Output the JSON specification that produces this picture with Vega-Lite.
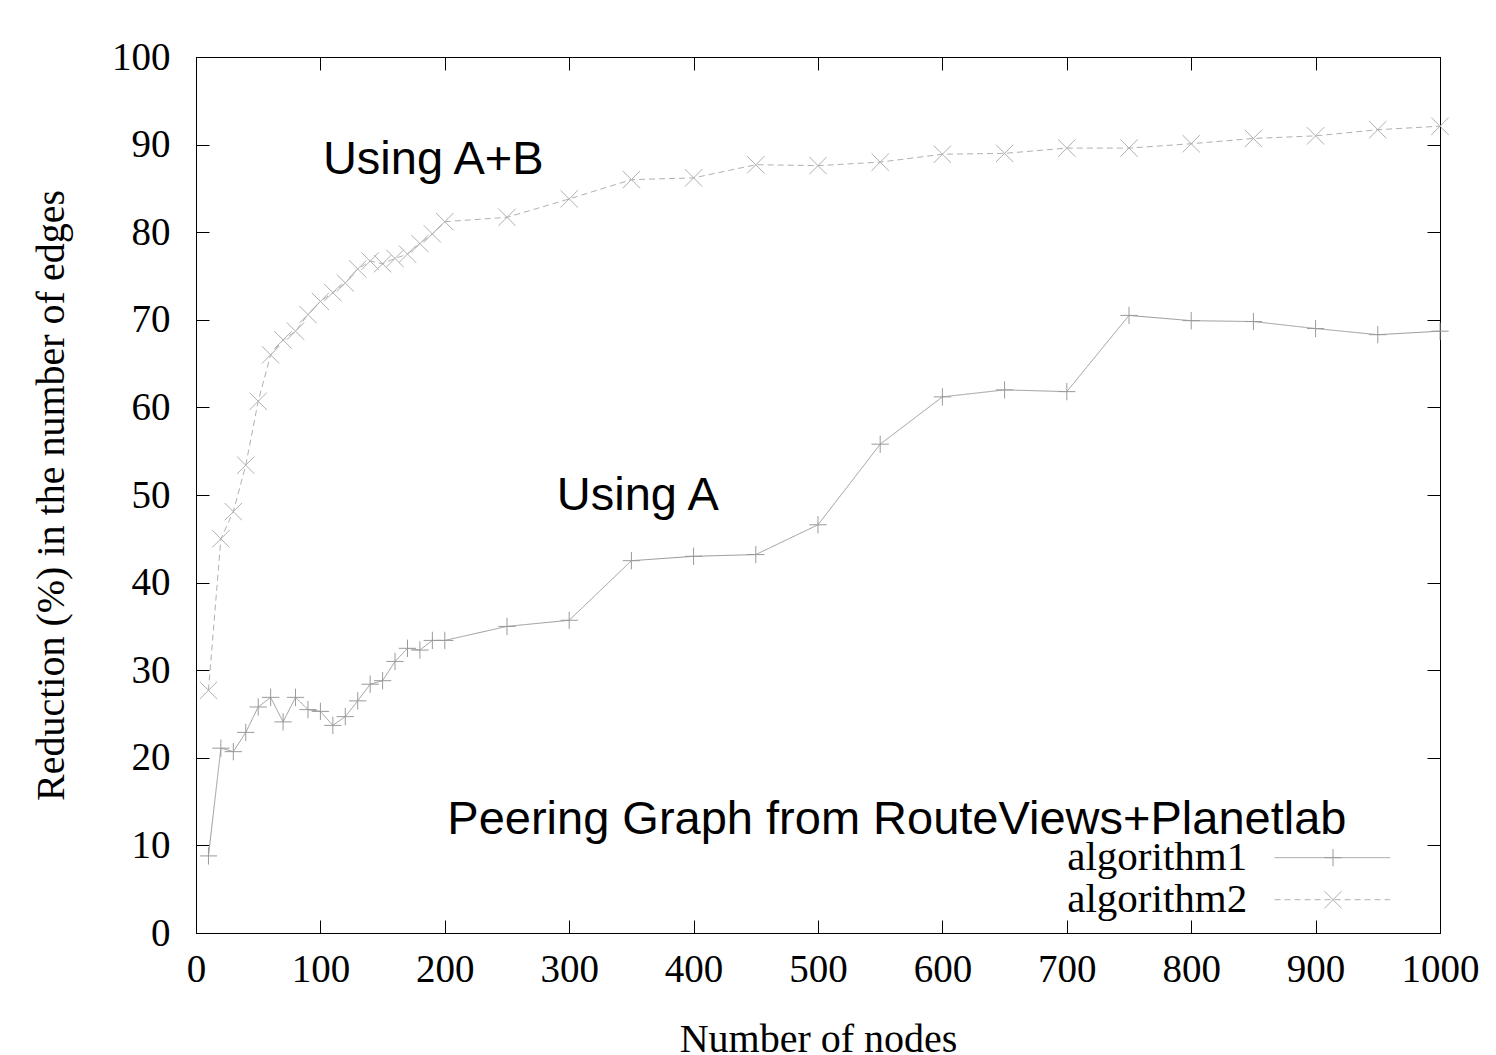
{
  "$schema": "https://vega.github.io/schema/vega-lite/v6.json",
  "width": 1244,
  "height": 876,
  "autosize": {"type": "none"},
  "padding": {"left": 196, "top": 57, "right": 56, "bottom": 122},
  "background": "white",
  "config": {
    "view": {"stroke": "black", "strokeWidth": 1},
    "axis": {
      "grid": false,
      "domainColor": "black",
      "tickColor": "black",
      "tickSize": -13,
      "labelFlush": false,
      "labelOverlap": false,
      "format": "d",
      "labelFont": "Liberation Serif",
      "labelFontSize": 39,
      "labelColor": "black",
      "titleFont": "Liberation Serif",
      "titleFontSize": 40,
      "titleFontWeight": "normal",
      "titleColor": "black"
    }
  },
  "datasets": {
    "series": [
      {"nodes": 10, "reduction": 8.8, "series": "algorithm1"},
      {"nodes": 20, "reduction": 21.1, "series": "algorithm1"},
      {"nodes": 30, "reduction": 20.7, "series": "algorithm1"},
      {"nodes": 40, "reduction": 22.9, "series": "algorithm1"},
      {"nodes": 50, "reduction": 25.8, "series": "algorithm1"},
      {"nodes": 60, "reduction": 26.9, "series": "algorithm1"},
      {"nodes": 70, "reduction": 24.1, "series": "algorithm1"},
      {"nodes": 80, "reduction": 26.9, "series": "algorithm1"},
      {"nodes": 90, "reduction": 25.5, "series": "algorithm1"},
      {"nodes": 100, "reduction": 25.3, "series": "algorithm1"},
      {"nodes": 110, "reduction": 23.7, "series": "algorithm1"},
      {"nodes": 120, "reduction": 24.7, "series": "algorithm1"},
      {"nodes": 130, "reduction": 26.5, "series": "algorithm1"},
      {"nodes": 140, "reduction": 28.4, "series": "algorithm1"},
      {"nodes": 150, "reduction": 28.8, "series": "algorithm1"},
      {"nodes": 160, "reduction": 31.0, "series": "algorithm1"},
      {"nodes": 170, "reduction": 32.5, "series": "algorithm1"},
      {"nodes": 180, "reduction": 32.3, "series": "algorithm1"},
      {"nodes": 190, "reduction": 33.4, "series": "algorithm1"},
      {"nodes": 200, "reduction": 33.4, "series": "algorithm1"},
      {"nodes": 250, "reduction": 35.0, "series": "algorithm1"},
      {"nodes": 300, "reduction": 35.7, "series": "algorithm1"},
      {"nodes": 350, "reduction": 42.5, "series": "algorithm1"},
      {"nodes": 400, "reduction": 43.0, "series": "algorithm1"},
      {"nodes": 450, "reduction": 43.2, "series": "algorithm1"},
      {"nodes": 500, "reduction": 46.6, "series": "algorithm1"},
      {"nodes": 550, "reduction": 55.8, "series": "algorithm1"},
      {"nodes": 600, "reduction": 61.2, "series": "algorithm1"},
      {"nodes": 650, "reduction": 62.0, "series": "algorithm1"},
      {"nodes": 700, "reduction": 61.8, "series": "algorithm1"},
      {"nodes": 750, "reduction": 70.5, "series": "algorithm1"},
      {"nodes": 800, "reduction": 69.9, "series": "algorithm1"},
      {"nodes": 850, "reduction": 69.8, "series": "algorithm1"},
      {"nodes": 900, "reduction": 69.0, "series": "algorithm1"},
      {"nodes": 950, "reduction": 68.3, "series": "algorithm1"},
      {"nodes": 1000, "reduction": 68.7, "series": "algorithm1"},
      {"nodes": 10, "reduction": 27.7, "series": "algorithm2"},
      {"nodes": 20, "reduction": 45.0, "series": "algorithm2"},
      {"nodes": 30, "reduction": 48.1, "series": "algorithm2"},
      {"nodes": 40, "reduction": 53.4, "series": "algorithm2"},
      {"nodes": 50, "reduction": 60.7, "series": "algorithm2"},
      {"nodes": 60, "reduction": 66.0, "series": "algorithm2"},
      {"nodes": 70, "reduction": 67.7, "series": "algorithm2"},
      {"nodes": 80, "reduction": 68.7, "series": "algorithm2"},
      {"nodes": 90, "reduction": 70.6, "series": "algorithm2"},
      {"nodes": 100, "reduction": 72.1, "series": "algorithm2"},
      {"nodes": 110, "reduction": 73.1, "series": "algorithm2"},
      {"nodes": 120, "reduction": 74.2, "series": "algorithm2"},
      {"nodes": 130, "reduction": 75.8, "series": "algorithm2"},
      {"nodes": 140, "reduction": 76.7, "series": "algorithm2"},
      {"nodes": 150, "reduction": 76.4, "series": "algorithm2"},
      {"nodes": 160, "reduction": 77.0, "series": "algorithm2"},
      {"nodes": 170, "reduction": 77.5, "series": "algorithm2"},
      {"nodes": 180, "reduction": 78.7, "series": "algorithm2"},
      {"nodes": 190, "reduction": 79.8, "series": "algorithm2"},
      {"nodes": 200, "reduction": 81.2, "series": "algorithm2"},
      {"nodes": 250, "reduction": 81.7, "series": "algorithm2"},
      {"nodes": 300, "reduction": 83.8, "series": "algorithm2"},
      {"nodes": 350, "reduction": 86.0, "series": "algorithm2"},
      {"nodes": 400, "reduction": 86.2, "series": "algorithm2"},
      {"nodes": 450, "reduction": 87.7, "series": "algorithm2"},
      {"nodes": 500, "reduction": 87.6, "series": "algorithm2"},
      {"nodes": 550, "reduction": 88.0, "series": "algorithm2"},
      {"nodes": 600, "reduction": 88.9, "series": "algorithm2"},
      {"nodes": 650, "reduction": 89.0, "series": "algorithm2"},
      {"nodes": 700, "reduction": 89.6, "series": "algorithm2"},
      {"nodes": 750, "reduction": 89.6, "series": "algorithm2"},
      {"nodes": 800, "reduction": 90.1, "series": "algorithm2"},
      {"nodes": 850, "reduction": 90.7, "series": "algorithm2"},
      {"nodes": 900, "reduction": 91.0, "series": "algorithm2"},
      {"nodes": 950, "reduction": 91.7, "series": "algorithm2"},
      {"nodes": 1000, "reduction": 92.1, "series": "algorithm2"}
    ],
    "legendRows": [
      {"series": "algorithm1", "labelX": 845, "lineStart": 867, "lineEnd": 960, "markX": 914, "level": 8.6},
      {"series": "algorithm2", "labelX": 845, "lineStart": 867, "lineEnd": 960, "markX": 914, "level": 3.8}
    ],
    "notes": [
      {"label": "Using A+B", "nodes": 102, "reduction": 88.2},
      {"label": "Using A", "nodes": 290, "reduction": 49.9},
      {"label": "Peering Graph from RouteViews+Planetlab", "nodes": 202, "reduction": 12.9}
    ]
  },
  "layer": [
    {
      "data": {"name": "series"},
      "mark": {"type": "line", "strokeWidth": 1},
      "encoding": {
        "x": {
          "field": "nodes", "type": "quantitative",
          "scale": {"domain": [0, 1000], "nice": false, "zero": false},
          "axis": {"orient": "bottom", "values": [0,100,200,300,400,500,600,700,800,900,1000], "title": "Number of nodes", "labelPadding": 30, "titlePadding": 30}
        },
        "y": {
          "field": "reduction", "type": "quantitative",
          "scale": {"domain": [0, 100], "nice": false},
          "axis": {"orient": "left", "values": [0,10,20,30,40,50,60,70,80,90,100], "title": "Reduction (%) in the number of edges", "labelPadding": 39, "titlePadding": 40}
        },
        "color": {"field": "series", "type": "nominal", "scale": {"domain": ["algorithm1", "algorithm2"], "range": ["#9a9a9a", "#b0b0b0"]}, "legend": null},
        "strokeDash": {"field": "series", "type": "nominal", "scale": {"domain": ["algorithm1", "algorithm2"], "range": [[1, 0], [6, 4]]}, "legend": null}
      }
    },
    {
      "data": {"name": "series"},
      "mark": {"type": "point", "filled": false, "strokeWidth": 1, "size": 300, "opacity": 1},
      "encoding": {
        "x": {"field": "nodes", "type": "quantitative", "axis": {"orient": "top", "values": [0,100,200,300,400,500,600,700,800,900,1000], "labels": false, "title": null}},
        "y": {"field": "reduction", "type": "quantitative", "axis": {"orient": "right", "values": [0,10,20,30,40,50,60,70,80,90,100], "labels": false, "title": null}},
        "color": {"field": "series", "type": "nominal", "legend": null},
        "shape": {"field": "series", "type": "nominal", "scale": {"domain": ["algorithm1", "algorithm2"], "range": ["M-1,0H1M0,-1V1", "M-1,-1L1,1M-1,1L1,-1"]}, "legend": null}
      }
    },
    {
      "data": {"name": "legendRows"},
      "mark": {"type": "rule", "strokeWidth": 1},
      "encoding": {
        "x": {"field": "lineStart", "type": "quantitative", "axis": null},
        "x2": {"field": "lineEnd"},
        "y": {"field": "level", "type": "quantitative", "axis": null},
        "color": {"field": "series", "type": "nominal", "legend": null},
        "strokeDash": {"field": "series", "type": "nominal", "legend": null}
      }
    },
    {
      "data": {"name": "legendRows"},
      "mark": {"type": "point", "filled": false, "strokeWidth": 1, "size": 300, "opacity": 1},
      "encoding": {
        "x": {"field": "markX", "type": "quantitative", "axis": null},
        "y": {"field": "level", "type": "quantitative", "axis": null},
        "color": {"field": "series", "type": "nominal", "legend": null},
        "shape": {"field": "series", "type": "nominal", "legend": null}
      }
    },
    {
      "data": {"name": "legendRows"},
      "mark": {"type": "text", "align": "right", "baseline": "middle", "font": "Liberation Serif", "fontSize": 41, "color": "black"},
      "encoding": {
        "x": {"field": "labelX", "type": "quantitative", "axis": null},
        "y": {"field": "level", "type": "quantitative", "axis": null},
        "text": {"field": "series"}
      }
    },
    {
      "data": {"name": "notes"},
      "mark": {"type": "text", "align": "left", "baseline": "middle", "font": "Liberation Sans", "fontSize": 47, "color": "black"},
      "encoding": {
        "x": {"field": "nodes", "type": "quantitative", "axis": null},
        "y": {"field": "reduction", "type": "quantitative", "axis": null},
        "text": {"field": "label"}
      }
    }
  ]
}
